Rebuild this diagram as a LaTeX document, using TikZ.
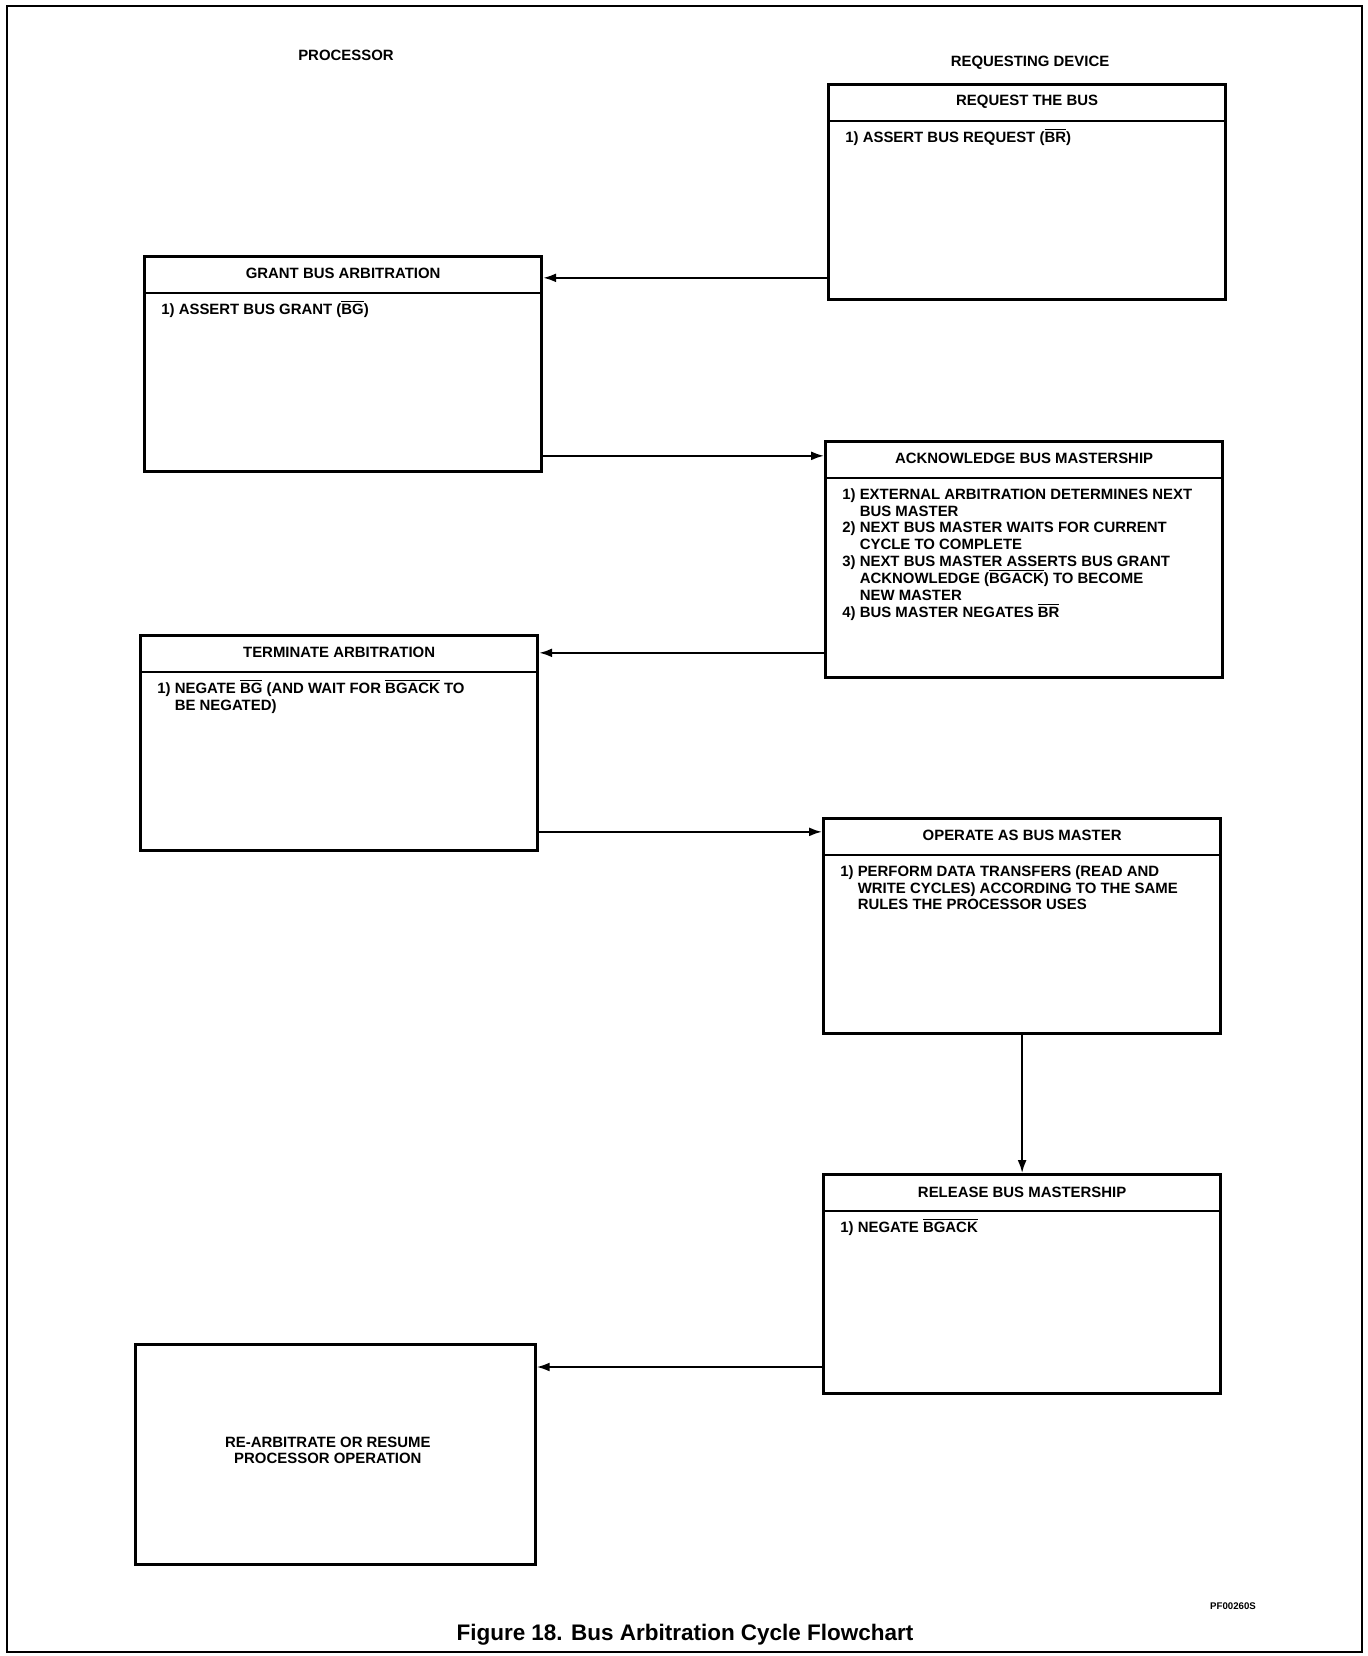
\documentclass[tikz,border=0pt]{standalone}
\usepackage{fontspec}
\setmainfont{Liberation Sans}
\usetikzlibrary{arrows.meta,positioning}
\newcommand{\ovl}[1]{\smash{$\overline{\mbox{#1}}$}}
\newcommand{\steps}[1]{\begin{tabular}{@{}l@{ }l@{}}#1\end{tabular}}

\begin{document}
\begin{tikzpicture}[x=0.02cm, y=-0.02cm,
    font=\bfseries\fontsize{8.5}{9.6}\selectfont,
    box/.style={draw, line width=1.6pt, anchor=north west, minimum width=7.95cm, minimum height=4.3cm, inner sep=0pt},
    head/.style={anchor=north, minimum height=0.74cm, inner sep=0pt},
    body/.style={inner sep=0pt, align=left},
    arr/.style={-{Latex[length=2.6mm,width=1.8mm]}, line width=1.1pt}]
\useasboundingbox (0,0) rectangle (1367,1656);
\draw[line width=1pt] (7,6) rectangle (1362,1652);

\node(processor) at (346,55) {PROCESSOR};
\node(device) at (1030,63) {REQUESTING DEVICE};

\node[box](req) at (827,83) {};
\node[head](req-h) at (req.north) {REQUEST THE BUS};
\node[body](req-b)[below right=0.94cm and 0.36cm of req.north west] {\steps{1) & ASSERT BUS REQUEST (\ovl{BR})}};

\node[box](grant) at (143,255) {};
\node[head](grant-h) at (grant.north) {GRANT BUS ARBITRATION};
\node[body](grant-b)[below right=0.94cm and 0.36cm of grant.north west] {\steps{1) & ASSERT BUS GRANT (\ovl{BG})}};

\node[box, minimum height=4.72cm](ack) at (824,440) {};
\node[head](ack-h) at (ack.north) {ACKNOWLEDGE BUS MASTERSHIP};
\node[body](ack-b)[below right=0.94cm and 0.36cm of ack.north west] {\steps{1) & EXTERNAL ARBITRATION DETERMINES NEXT\\ & BUS MASTER\\
    2) & NEXT BUS MASTER WAITS FOR CURRENT\\ & CYCLE TO COMPLETE\\
    3) & NEXT BUS MASTER ASSERTS BUS GRANT\\ & ACKNOWLEDGE (\ovl{BGACK}) TO BECOME\\ & NEW MASTER\\
    4) & BUS MASTER NEGATES \ovl{BR}}};

\node[box](term) at (139,634) {};
\node[head](term-h) at (term.north) {TERMINATE ARBITRATION};
\node[body](term-b)[below right=0.94cm and 0.36cm of term.north west] {\steps{1) & NEGATE \ovl{BG} (AND WAIT FOR \ovl{BGACK} TO\\ & BE NEGATED)}};

\node[box](oper) at (822,817) {};
\node[head](oper-h) at (oper.north) {OPERATE AS BUS MASTER};
\node[body](oper-b)[below right=0.94cm and 0.36cm of oper.north west] {\steps{1) & PERFORM DATA TRANSFERS (READ AND\\ & WRITE CYCLES) ACCORDING TO THE SAME\\ & RULES THE PROCESSOR USES}};

\node[box, minimum height=4.38cm](rel) at (822,1173) {};
\node[head](rel-h) at (rel.north) {RELEASE BUS MASTERSHIP};
\node[body](rel-b)[below right=0.94cm and 0.36cm of rel.north west] {\steps{1) & NEGATE \ovl{BGACK}}};

\node[box, minimum width=8cm, minimum height=4.4cm](resume) at (134,1343) {};
\node[align=center](resume-t) at ([xshift=-0.15cm,yshift=0.08cm]resume.center) {RE-ARBITRATE OR RESUME\\PROCESSOR OPERATION};
\coordinate(resume-in) at ([yshift=-0.48cm]resume.north east);

\foreach \b in {req,grant,ack,term,oper,rel}
    \draw[line width=1.2pt] (\b-h.south -| \b.west) -- (\b-h.south -| \b.east);

\path[arr]
    ([yshift=-0.08cm]req.west |- grant-h) edge ([yshift=-0.08cm]grant.east |- grant-h)
    ([yshift=0.06cm]grant.east |- ack-h) edge ([yshift=0.06cm]ack.west |- ack-h)
    (ack.west |- term-h) edge (term.east |- term-h)
    ([yshift=0.08cm]term.east |- oper-h) edge ([yshift=0.08cm]oper.west |- oper-h)
    (oper) edge (rel)
    (rel.west |- resume-in) edge (resume-in);

\node[font=\bfseries\fontsize{5.5}{6}\selectfont](code) at (1233,1606) {PF00260S};
\node[font=\bfseries\fontsize{12.8}{14}\selectfont](caption) at (685,1635) {Figure 18. Bus Arbitration Cycle Flowchart};
\end{tikzpicture}
\end{document}
